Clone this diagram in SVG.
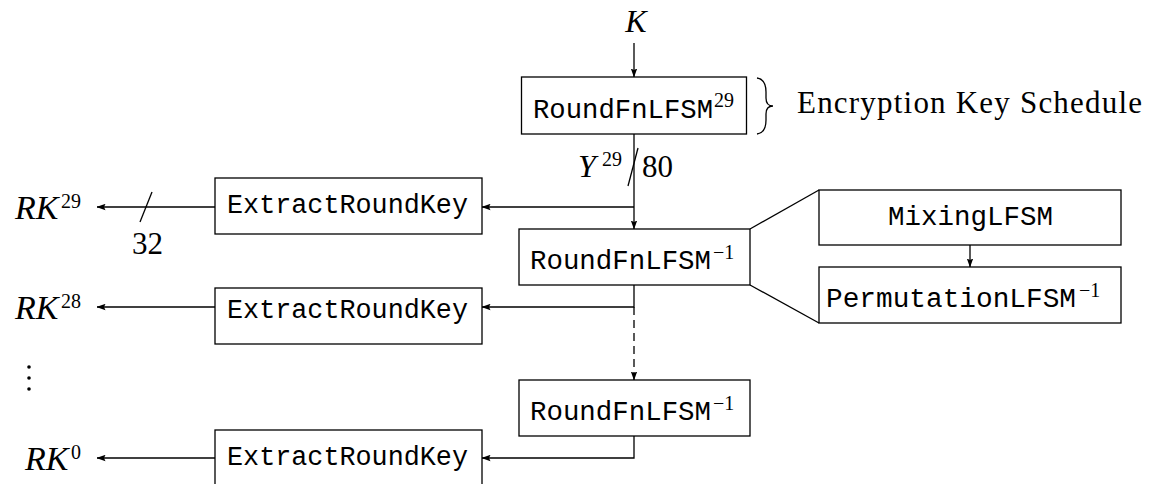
<svg xmlns="http://www.w3.org/2000/svg" width="1154" height="484" viewBox="0 0 1154 484">
<style>
.box{fill:#fff;stroke:#000;stroke-width:1.3}
.ln{fill:none;stroke:#000;stroke-width:1.3}
.tt{font-family:"Liberation Mono",monospace;font-size:27px;fill:#000}
.rm{font-family:"Liberation Serif",serif;font-size:31px;fill:#000}
.it{font-family:"Liberation Serif",serif;font-style:italic;font-size:32px;fill:#000}
.rk{font-family:"Liberation Serif",serif;font-style:italic;font-size:34px;fill:#000}
.sup{font-family:"Liberation Serif",serif;font-size:20px;fill:#000}
</style>
<defs>
<marker id="arr" markerWidth="9" markerHeight="7" refX="8.5" refY="3.5" orient="auto" markerUnits="userSpaceOnUse">
<path d="M0,0.3 L9,3.5 L0,6.7 L1.5,3.5 z" fill="#000"/>
</marker>
</defs>
<rect width="1154" height="484" fill="#fff"/>
<g id="connectors">
<line class="ln" x1="634" y1="43" x2="634" y2="77" marker-end="url(#arr)"/>
<line class="ln" x1="634" y1="134" x2="634" y2="229" marker-end="url(#arr)"/>
<polyline class="ln" points="634,207 482,207" marker-end="url(#arr)"/>
<polyline class="ln" points="634,285 634,307 482,307" marker-end="url(#arr)"/>
<line class="ln" x1="634" y1="307" x2="634" y2="380" stroke-dasharray="8 5" marker-end="url(#arr)"/>
<polyline class="ln" points="634,436 634,458 482,458" marker-end="url(#arr)"/>
<line class="ln" x1="215" y1="207" x2="97" y2="207" marker-end="url(#arr)"/>
<line class="ln" x1="215" y1="307" x2="97" y2="307" marker-end="url(#arr)"/>
<line class="ln" x1="215" y1="458" x2="97" y2="458" marker-end="url(#arr)"/>
<line class="ln" x1="970" y1="245" x2="970" y2="267" marker-end="url(#arr)"/>
<line class="ln" x1="750" y1="229" x2="819" y2="190"/>
<line class="ln" x1="750" y1="285" x2="819" y2="323"/>
<line class="ln" x1="638" y1="148" x2="628" y2="186"/>
<line class="ln" x1="152" y1="192" x2="140" y2="222"/>
</g>
<g id="K"><text class="it" x="636" y="32" text-anchor="middle">K</text></g>
<g id="roundfn29">
<rect class="box" x="521.5" y="77" width="225" height="57"/>
<text class="tt" x="533" y="118" textLength="180" lengthAdjust="spacingAndGlyphs">RoundFnLFSM</text>
<text class="sup" x="714" y="107">29</text>
</g>
<g id="brace">
<path class="ln" stroke-width="1.6" d="M757,78 C764,79 766,84 766,92 L766,98 C766,103 768,106 773,106 C768,106 766,109 766,114 L766,120 C766,128 764,133 757,134"/>
<text class="rm" x="797" y="113" textLength="345">Encryption Key Schedule</text>
</g>
<g id="y29label">
<text class="it" x="578" y="177">Y</text>
<text class="sup" x="602" y="166">29</text>
<text class="rm" x="642" y="177">80</text>
</g>
<g id="extract1">
<rect class="box" x="215" y="178" width="267" height="56"/>
<text class="tt" x="227" y="213" textLength="241" lengthAdjust="spacingAndGlyphs">ExtractRoundKey</text>
</g>
<g id="rk29">
<text class="rk" x="15" y="219">RK</text>
<text class="sup" x="61" y="208">29</text>
<text class="rm" x="132" y="254">32</text>
</g>
<g id="roundfninv1">
<rect class="box" x="519" y="229" width="231" height="56"/>
<text class="tt" x="530" y="269" textLength="181" lengthAdjust="spacingAndGlyphs">RoundFnLFSM</text>
<text class="sup" x="713" y="259">−1</text>
</g>
<g id="mixing">
<rect class="box" x="819" y="190" width="302" height="55"/>
<text class="tt" x="888" y="225" textLength="165" lengthAdjust="spacingAndGlyphs">MixingLFSM</text>
</g>
<g id="perm">
<rect class="box" x="819" y="267" width="302" height="56"/>
<text class="tt" x="826" y="307" textLength="250" lengthAdjust="spacingAndGlyphs">PermutationLFSM</text>
<text class="sup" x="1079" y="297">−1</text>
</g>
<g id="extract2">
<rect class="box" x="215" y="288" width="267" height="56"/>
<text class="tt" x="227" y="318" textLength="241" lengthAdjust="spacingAndGlyphs">ExtractRoundKey</text>
</g>
<g id="rk28">
<text class="rk" x="15" y="319">RK</text>
<text class="sup" x="61" y="308">28</text>
</g>
<g id="vdots">
<circle cx="29" cy="367" r="1.8"/>
<circle cx="29" cy="378" r="1.8"/>
<circle cx="29" cy="389" r="1.8"/>
</g>
<g id="roundfninv2">
<rect class="box" x="519" y="380" width="231" height="56"/>
<text class="tt" x="530" y="420" textLength="181" lengthAdjust="spacingAndGlyphs">RoundFnLFSM</text>
<text class="sup" x="713" y="410">−1</text>
</g>
<g id="extract3">
<rect class="box" x="215" y="430" width="267" height="56"/>
<text class="tt" x="227" y="465" textLength="241" lengthAdjust="spacingAndGlyphs">ExtractRoundKey</text>
</g>
<g id="rk0">
<text class="rk" x="25" y="470">RK</text>
<text class="sup" x="71" y="459">0</text>
</g>
</svg>
